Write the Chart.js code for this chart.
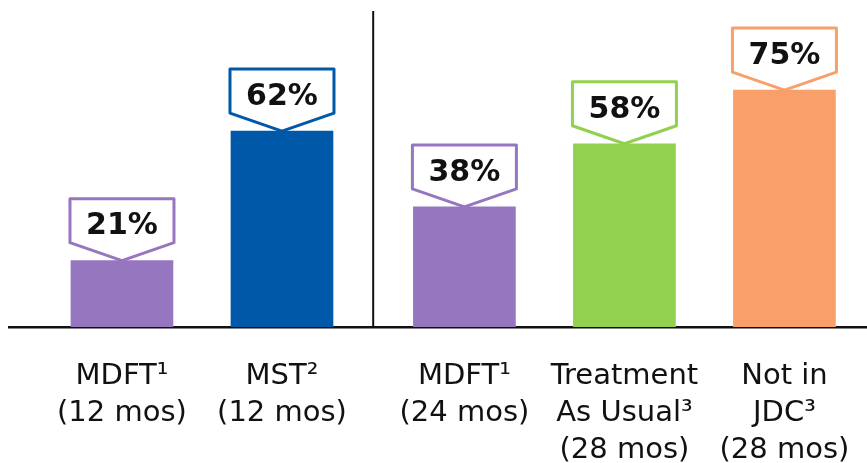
<!DOCTYPE html>
<html>
<head>
<meta charset="utf-8">
<script src="https://cdn.jsdelivr.net/npm/chart.js@4/dist/chart.umd.min.js"></script>
<style>
  html, body { margin: 0; padding: 0; background: #fff; }
  #wrap { width: 867px; height: 463px; position: relative; }
</style>
</head>
<body>
<div id="wrap"><canvas id="c"></canvas></div>
<script>
// ---- data ----
const categories = [
  ["MDFT¹", "(12 mos)"],
  ["MST²", "(12 mos)"],
  ["MDFT¹", "(24 mos)"],
  ["Treatment", "As Usual³", "(28 mos)"],
  ["Not in", "JDC³", "(28 mos)"]
];
const values = [21, 62, 38, 58, 75];
const valueLabels = ["21%", "62%", "38%", "58%", "75%"];
const barColors = ["#9676BF", "#0058A8", "#9676BF", "#92D14F", "#F9A06A"];

// layout: two study groups, small gap between them
const groupGap = 0.14;
const positions = categories.map((_, i) => i + (i >= 2 ? groupGap : 0));

const calloutPlugin = {
  id: 'callouts',
  beforeDatasetsDraw(chart) {
    const meta = chart.getDatasetMeta(0);
    const y = chart.scales.y;
    const ctx = chart.ctx;
    const xd = (meta.data[1].x + meta.data[2].x) / 2;
    ctx.save();
    ctx.strokeStyle = '#111';
    ctx.lineWidth = 2;
    ctx.beginPath();
    ctx.moveTo(xd, y.getPixelForValue(100));
    ctx.lineTo(xd, y.getPixelForValue(0));
    ctx.stroke();
    ctx.restore();
  },
  afterDatasetsDraw(chart) {
    const meta = chart.getDatasetMeta(0);
    const ctx = chart.ctx;
    meta.data.forEach((el, i) => {
      const cx = el.x, T = el.y;
      const hw = 52;
      ctx.save();
      ctx.beginPath();
      ctx.moveTo(cx - hw, T - 62);
      ctx.lineTo(cx + hw, T - 62);
      ctx.lineTo(cx + hw, T - 18);
      ctx.lineTo(cx, T);
      ctx.lineTo(cx - hw, T - 18);
      ctx.closePath();
      ctx.fillStyle = '#fff';
      ctx.fill();
      ctx.lineWidth = 3;
      ctx.lineJoin = 'round';
      ctx.strokeStyle = barColors[i];
      ctx.stroke();
      ctx.fillStyle = '#111';
      ctx.font = 'bold 30px "DejaVu Sans"';
      ctx.textAlign = 'center';
      ctx.textBaseline = 'middle';
      ctx.fillText(valueLabels[i], cx, T - 34);
      ctx.restore();
    });
  }
};

new Chart(document.getElementById('c'), {
  type: 'bar',
  data: {
    datasets: [{
      data: values.map((v, i) => ({ x: positions[i], y: v })),
      backgroundColor: barColors,
      borderWidth: 0,
      barThickness: 102
    }]
  },
  options: {
    responsive: true,
    maintainAspectRatio: false,
    animation: false,
    layout: { padding: { left: 9, right: 0, top: 0, bottom: 0 } },
    plugins: { legend: { display: false }, tooltip: { enabled: false } },
    scales: {
      x: {
        type: 'linear',
        offset: false,
        min: -0.706,
        max: 4.656,
        afterBuildTicks: (s) => { s.ticks = positions.map(v => ({ value: v })); },
        afterFit: (s) => { s.height = 136; s.paddingLeft = 0; s.paddingRight = 0; },
        grid: { display: false, drawTicks: false },
        border: { display: true, color: '#111', width: 2.5 },
        ticks: {
          autoSkip: false,
          maxRotation: 0,
          padding: 31,
          color: '#111',
          font: { family: '"DejaVu Sans"', size: 29, lineHeight: 1.27 },
          callback: (value, index) => categories[index]
        }
      },
      y: {
        display: false,
        min: 0,
        max: 103.5
      }
    }
  },
  plugins: [calloutPlugin]
});
</script>
</body>
</html>
